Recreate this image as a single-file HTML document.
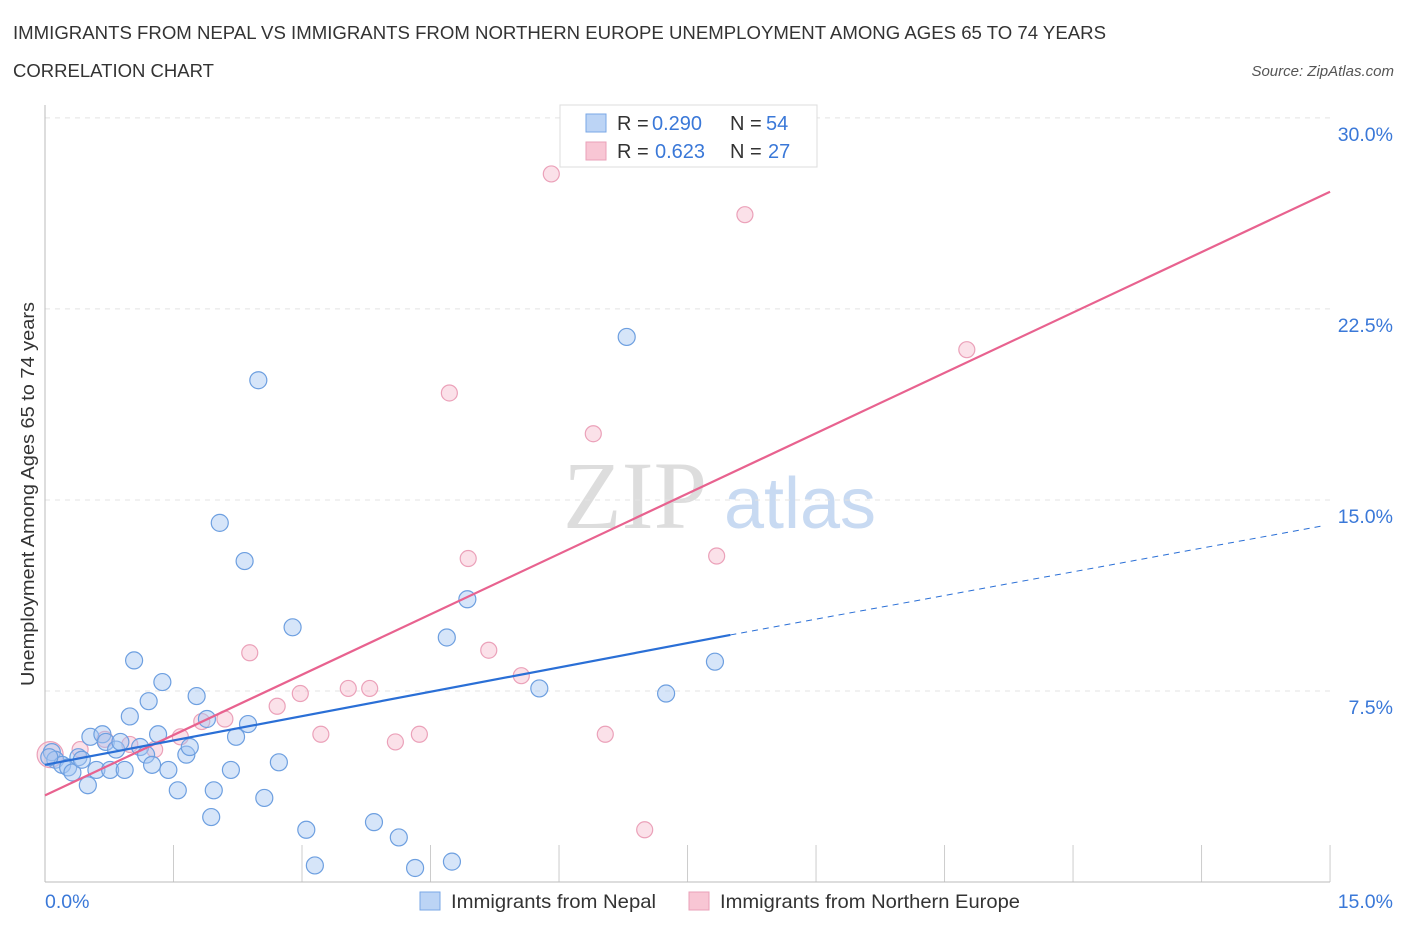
<!DOCTYPE html>
<html><head><meta charset="utf-8"><style>
body{margin:0;background:#fff;font-family:"Liberation Sans",sans-serif;}
svg{display:block}
</style></head><body>
<svg id="c" width="1406" height="930" viewBox="0 0 1406 930">
<text x="13" y="39" font-size="18" fill="#333" textLength="1093" lengthAdjust="spacingAndGlyphs">IMMIGRANTS FROM NEPAL VS IMMIGRANTS FROM NORTHERN EUROPE UNEMPLOYMENT AMONG AGES 65 TO 74 YEARS</text>
<text x="13" y="77" font-size="18" fill="#333" textLength="201" lengthAdjust="spacingAndGlyphs">CORRELATION CHART</text>
<text x="1394" y="76" font-size="15" fill="#555" font-style="italic" text-anchor="end">Source: ZipAtlas.com</text>
<text x="635" y="528" font-size="96" fill="#ddd" font-family="Liberation Serif,serif" text-anchor="middle">ZIP</text>
<text x="800" y="528" font-size="72" fill="#c8daf2" text-anchor="middle">atlas</text>
<g id="grid"></g>
<line x1="45" y1="105" x2="45" y2="882" stroke="#bbb"/>
<line x1="45" y1="882" x2="1330" y2="882" stroke="#bbb"/>
<text x="34" y="494" font-size="18" fill="#333" text-anchor="middle" textLength="384" lengthAdjust="spacingAndGlyphs" transform="rotate(-90 34 494)">Unemployment Among Ages 65 to 74 years</text>
<text x="45" y="908" font-size="19.5" fill="#3a78d8">0.0%</text>
<text x="1393" y="908" font-size="19.5" fill="#3a78d8" text-anchor="end">15.0%</text>
<g id="pts"></g>
<g id="lines"></g>
<g>
<rect x="560" y="105" width="257" height="62" fill="#fff" stroke="#ddd"/>
<rect x="586" y="114" width="20" height="18" fill="#bcd4f5" stroke="#7aa7e6"/>
<rect x="586" y="142" width="20" height="18" fill="#f8c6d4" stroke="#eaa0b8"/>
<text x="617" y="130" font-size="20" fill="#333">R =</text>
<text x="652" y="130" font-size="20" fill="#3a78d8">0.290</text>
<text x="730" y="130" font-size="20" fill="#333">N =</text>
<text x="766" y="130" font-size="20" fill="#3a78d8">54</text>
<text x="617" y="158" font-size="20" fill="#333">R =</text>
<text x="655" y="158" font-size="20" fill="#3a78d8">0.623</text>
<text x="730" y="158" font-size="20" fill="#333">N =</text>
<text x="768" y="158" font-size="20" fill="#3a78d8">27</text>
</g>
<g>
<rect x="420" y="892" width="20" height="18" fill="#bcd4f5" stroke="#7aa7e6"/>
<text x="451" y="908" font-size="19.5" fill="#333" textLength="205" lengthAdjust="spacingAndGlyphs">Immigrants from Nepal</text>
<rect x="689" y="892" width="20" height="18" fill="#f8c6d4" stroke="#eaa0b8"/>
<text x="720" y="908" font-size="19.5" fill="#333" textLength="300" lengthAdjust="spacingAndGlyphs">Immigrants from Northern Europe</text>
</g>
</svg>
<script>
const yTicks=[7.5,15,22.5,30];
const yTickLabels=["7.5%","15.0%","22.5%","30.0%"];
const xTicks=[0,1.5,3,4.5,6,7.5,9,10.5,12,13.5,15];
const nepalX=[0.08,0.12,0.2,0.27,0.32,0.39,0.43,0.5,0.53,0.6,0.67,0.71,0.76,0.83,0.88,0.93,0.99,1.04,1.11,1.18,1.21,1.25,1.32,1.37,1.44,1.55,1.65,1.69,1.77,1.89,1.94,1.97,2.04,2.17,2.23,2.33,2.37,2.49,2.56,2.73,2.89,3.05,3.15,3.84,4.13,4.32,4.69,4.75,4.93,5.77,6.79,7.25,7.82,0.05];
const nepalY=[5.1,4.8,4.6,4.5,4.3,4.9,4.8,3.8,5.7,4.4,5.8,5.5,4.4,5.2,5.5,4.4,6.5,8.7,5.3,5.0,7.1,4.6,5.8,7.85,4.4,3.6,5.0,5.3,7.3,6.4,2.55,3.6,14.1,4.4,5.7,12.6,6.2,19.7,3.3,4.7,10.0,2.05,0.65,2.35,1.75,0.55,9.6,0.8,11.1,7.6,21.4,7.4,8.65,4.9];
const neX=[0.06,0.41,0.7,0.99,1.28,1.58,1.83,2.1,2.39,2.71,2.98,3.22,3.54,3.79,4.09,4.37,4.72,4.94,5.18,5.56,5.91,6.4,6.54,7.0,7.84,8.17,10.76];
const neY=[5.0,5.2,5.6,5.4,5.2,5.7,6.3,6.4,9.0,6.9,7.4,5.8,7.6,7.6,5.5,5.8,19.2,12.7,9.1,8.1,27.8,17.6,5.8,2.05,12.8,26.2,20.9];
const nepalFit=[[0,4.6],[8.0,9.7],[15,14.0]];
const neFit=[[0,3.4],[15,27.1]];
const NS="http://www.w3.org/2000/svg";
const sx=v=>45+v*85.67, sy=v=>882-v*25.47;
function mk(t,a,p){const e=document.createElementNS(NS,t);for(const k in a)e.setAttribute(k,a[k]);p.appendChild(e);return e;}
const g=document.getElementById('grid');
yTicks.forEach((v,i)=>{
 const l=mk('line',{x1:45,x2:1330,y1:sy(v),y2:sy(v),stroke:'#e3e3e3','stroke-dasharray':'5,5'},g);
 
 
 const t=mk('text',{x:1393,y:sy(v)+23,'font-size':19.5,fill:'#3a78d8','text-anchor':'end'},g);
 t.textContent=yTickLabels[i];
 
 
});
xTicks.forEach(v=>{
 const l=mk('line',{x1:sx(v),x2:sx(v),y1:845,y2:882,stroke:'#ccc'},g);
 
 
});
const p=document.getElementById('pts');
neX.forEach((x,i)=>{
 const c=mk('circle',{cx:sx(x),cy:sy(neY[i]),r:i==0?13:8,fill:'rgba(246,180,200,0.4)',stroke:'#eba1b9','stroke-width':1.2},p);
 
 
});
nepalX.forEach((x,i)=>{
 const c=mk('circle',{cx:sx(x),cy:sy(nepalY[i]),r:8.5,fill:'rgba(165,198,242,0.45)',stroke:'#6d9fe0','stroke-width':1.2},p);
 
 
});
const L=document.getElementById('lines');
let a=mk('line',{x1:sx(neFit[0][0]),y1:sy(neFit[0][1]),x2:sx(neFit[1][0]),y2:sy(neFit[1][1]),stroke:'#e8628f','stroke-width':2.2},L);


a=mk('line',{x1:sx(nepalFit[0][0]),y1:sy(nepalFit[0][1]),x2:sx(nepalFit[1][0]),y2:sy(nepalFit[1][1]),stroke:'#2a6fd6','stroke-width':2.2},L);


a=mk('line',{x1:sx(nepalFit[1][0]),y1:sy(nepalFit[1][1]),x2:sx(nepalFit[2][0])-5,y2:sy(nepalFit[2][1]),stroke:'#2a6fd6','stroke-width':1,'stroke-dasharray':'6,5'},L);


</script>
</body></html>
